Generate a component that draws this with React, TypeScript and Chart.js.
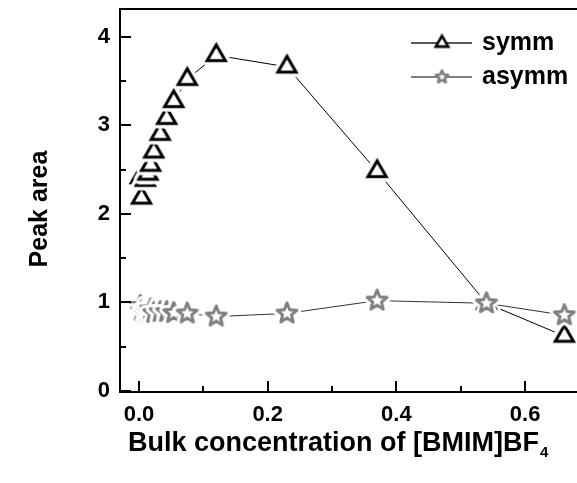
import React, { useEffect, useRef } from "react";
import { Chart, registerables } from "chart.js";

Chart.register(...registerables);

const concentrations = [0.002, 0.004, 0.010, 0.014, 0.018, 0.023, 0.033, 0.043, 0.054, 0.075, 0.120, 0.230, 0.370, 0.540, 0.661];
const symmArea = [2.41, 2.18, 2.38, 2.45, 2.55, 2.70, 2.90, 3.08, 3.27, 3.52, 3.79, 3.66, 2.48, 0.99, 0.62];
const asymmArea = [0.96, 0.90, 0.88, 0.90, 0.92, 0.88, 0.89, 0.89, 0.88, 0.875, 0.84, 0.875, 1.02, 0.99, 0.855];
const seriesLabels = ["symm", "asymm"];
const xTicks = [0, 0.2, 0.4, 0.6];
const xMinorTicks = [0.1, 0.3, 0.5];
const yTicks = [0, 1, 2, 3, 4];
const yMinorTicks = [0.5, 1.5, 2.5, 3.5];
const xTitle = "Bulk concentration of [BMIM]BF";
const xTitleSub = "4";
const yTitle = "Peak area";

const FONT = "'Liberation Sans', Arial, sans-serif";
const STAR_GRAY = "#808080";

function trianglePath(ctx: CanvasRenderingContext2D, c: number, r: number) {
  const s = Math.sin(Math.PI * 2 / 3);
  ctx.beginPath();
  ctx.moveTo(c, c - r);
  ctx.lineTo(c + r * s, c + r * 0.5);
  ctx.lineTo(c - r * s, c + r * 0.5);
  ctx.closePath();
}

function starPath(ctx: CanvasRenderingContext2D, cx: number, cy: number, ro: number, ri: number) {
  ctx.beginPath();
  for (let i = 0; i < 10; i++) {
    const a = -Math.PI / 2 + (i * Math.PI) / 5;
    const r = i % 2 === 0 ? ro : ri;
    const px = cx + Math.cos(a) * r;
    const py = cy + Math.sin(a) * r;
    if (i === 0) ctx.moveTo(px, py);
    else ctx.lineTo(px, py);
  }
  ctx.closePath();
}

function makeTriangle(r: number, lw: number, halo: number) {
  const size = Math.ceil(2 * r + halo + 8);
  const cv = document.createElement("canvas");
  cv.width = size;
  cv.height = size;
  const ctx = cv.getContext("2d")!;
  const c = size / 2;
  trianglePath(ctx, c, r);
  if (halo > 0) {
    ctx.lineJoin = "round";
    ctx.strokeStyle = "#fff";
    ctx.lineWidth = halo;
    ctx.stroke();
  }
  ctx.fillStyle = "#fff";
  ctx.fill();
  ctx.lineJoin = "miter";
  ctx.strokeStyle = "#000";
  ctx.lineWidth = lw;
  ctx.stroke();
  return cv;
}

function makeStar(ro: number, ri: number, lw: number, halo: number) {
  const size = Math.ceil(2 * ro + halo + 8);
  const cv = document.createElement("canvas");
  cv.width = size;
  cv.height = size;
  const ctx = cv.getContext("2d")!;
  const c = size / 2;
  starPath(ctx, c, c, ro, ri);
  if (halo > 0) {
    ctx.lineJoin = "round";
    ctx.strokeStyle = "#fff";
    ctx.lineWidth = halo;
    ctx.stroke();
  }
  ctx.fillStyle = "#fff";
  ctx.fill();
  ctx.lineJoin = "round";
  ctx.strokeStyle = STAR_GRAY;
  ctx.lineWidth = lw;
  ctx.stroke();
  return cv;
}

export default function App() {
  const ref = useRef<HTMLCanvasElement | null>(null);

  useEffect(() => {
    const canvas = ref.current;
    if (!canvas) return;

    const triImg = makeTriangle(10.5, 3, 10);
    const starImg = makeStar(10.5, 4.6, 3, 9);
    const legTri = makeTriangle(7.2, 2.6, 0);
    const legStar = makeStar(6.5, 3, 2.6, 0);

    const framePlugin = {
      id: "frame",
      afterDatasetsDraw(chart: any) {
        const { ctx, chartArea } = chart;
        const xs = chart.scales.x;
        const ys = chart.scales.y;
        const { left, top, bottom } = chartArea;
        const right = chart.width;
        ctx.save();
        ctx.strokeStyle = "#000";
        ctx.lineWidth = 2;
        ctx.lineCap = "butt";
        ctx.beginPath();
        ctx.moveTo(left, top);
        ctx.lineTo(right, top);
        ctx.moveTo(left, top - 1);
        ctx.lineTo(left, bottom + 1);
        ctx.moveTo(left - 1, bottom);
        ctx.lineTo(right, bottom);
        ctx.stroke();
        // x ticks (inward)
        ctx.beginPath();
        xTicks.forEach((v) => {
          const px = Math.round(xs.getPixelForValue(v));
          ctx.moveTo(px, bottom);
          ctx.lineTo(px, bottom - 11);
        });
        xMinorTicks.forEach((v) => {
          const px = Math.round(xs.getPixelForValue(v));
          ctx.moveTo(px, bottom);
          ctx.lineTo(px, bottom - 6);
        });
        yTicks.forEach((v) => {
          const py = Math.round(ys.getPixelForValue(v));
          ctx.moveTo(left, py);
          ctx.lineTo(left + 11, py);
        });
        yMinorTicks.forEach((v) => {
          const py = Math.round(ys.getPixelForValue(v));
          ctx.moveTo(left, py);
          ctx.lineTo(left + 6, py);
        });
        ctx.stroke();

        // legend
        const legX0 = 411;
        const legX1 = 472;
        const legMid = 442;
        const legY = [43, 77];
        const imgs = [legTri, legStar];
        const lineColors = ["#222", "#555"];
        legY.forEach((y, i) => {
          ctx.strokeStyle = lineColors[i];
          ctx.lineWidth = 1.3;
          ctx.beginPath();
          ctx.moveTo(legX0, y);
          ctx.lineTo(legX1, y);
          ctx.stroke();
          const im = imgs[i];
          ctx.drawImage(im, legMid - im.width / 2, y - im.height / 2);
          ctx.fillStyle = "#000";
          ctx.font = `bold 25px ${FONT}`;
          ctx.textAlign = "left";
          ctx.textBaseline = "middle";
          ctx.fillText(seriesLabels[i], 482, y);
        });

        // axis titles
        ctx.fillStyle = "#000";
        ctx.font = `bold 27px ${FONT}`;
        ctx.textAlign = "left";
        ctx.textBaseline = "alphabetic";
        const w = ctx.measureText(xTitle).width;
        const tx = 128;
        const ty = 451;
        ctx.fillText(xTitle, tx, ty);
        ctx.font = `bold 15px ${FONT}`;
        ctx.fillText(xTitleSub, tx + w + 1, ty + 6);

        ctx.save();
        ctx.translate(40, 209);
        ctx.rotate(-Math.PI / 2);
        ctx.font = `bold 25px ${FONT}`;
        ctx.textAlign = "center";
        ctx.textBaseline = "middle";
        ctx.fillText(yTitle, 0, 0);
        ctx.restore();
        ctx.restore();
      },
    };

    const chart = new Chart(canvas, {
      type: "scatter",
      data: {
        datasets: [
          {
            label: seriesLabels[0],
            data: concentrations.map((x, i) => ({ x, y: symmArea[i] })),
            showLine: true,
            borderColor: "#000",
            borderWidth: 1,
            pointStyle: triImg as any,
            pointRadius: 10,
            order: 2,
          },
          {
            label: seriesLabels[1],
            data: concentrations.map((x, i) => ({ x, y: asymmArea[i] })),
            showLine: true,
            borderColor: "#333",
            borderWidth: 1,
            pointStyle: starImg as any,
            pointRadius: 10,
            order: 1,
          },
        ],
      },
      options: {
        animation: false,
        responsive: false,
        layout: { autoPadding: false, padding: { top: 9, right: 0, left: 0, bottom: 0 } },
        plugins: {
          legend: { display: false },
          tooltip: { enabled: false },
        },
        scales: {
          x: {
            type: "linear",
            min: -0.0295,
            max: 0.6807,
            grid: { display: false, drawTicks: false },
            border: { display: false },
            afterBuildTicks: (s: any) => {
              s.ticks = xTicks.map((v) => ({ value: v }));
            },
            afterFit: (s: any) => {
              s.height = 91;
              s.paddingLeft = 0;
              s.paddingRight = 0;
            },
            ticks: {
              color: "#000",
              font: { family: FONT, size: 22, weight: "bold" },
              padding: 10,
              maxRotation: 0,
              autoSkip: false,
              callback: (v: any) => Number(v).toFixed(1),
            },
          },
          y: {
            type: "linear",
            min: -0.012,
            max: 4.313,
            grid: { display: false, drawTicks: false },
            border: { display: false },
            afterBuildTicks: (s: any) => {
              s.ticks = yTicks.map((v) => ({ value: v }));
            },
            afterFit: (s: any) => {
              s.width = 120;
              s.paddingTop = 0;
              s.paddingBottom = 0;
            },
            ticks: {
              color: "#000",
              font: { family: FONT, size: 22, weight: "bold" },
              padding: 10,
              autoSkip: false,
              callback: (v: any) => String(v),
            },
          },
        },
      },
      plugins: [framePlugin],
    });

    return () => {
      chart.destroy();
    };
  }, []);

  return (
    <div style={{ position: "fixed", left: 0, top: 0, width: 577, height: 483, background: "#fff" }}>
      <canvas ref={ref} width={577} height={483} style={{ display: "block" }} />
    </div>
  );
}
